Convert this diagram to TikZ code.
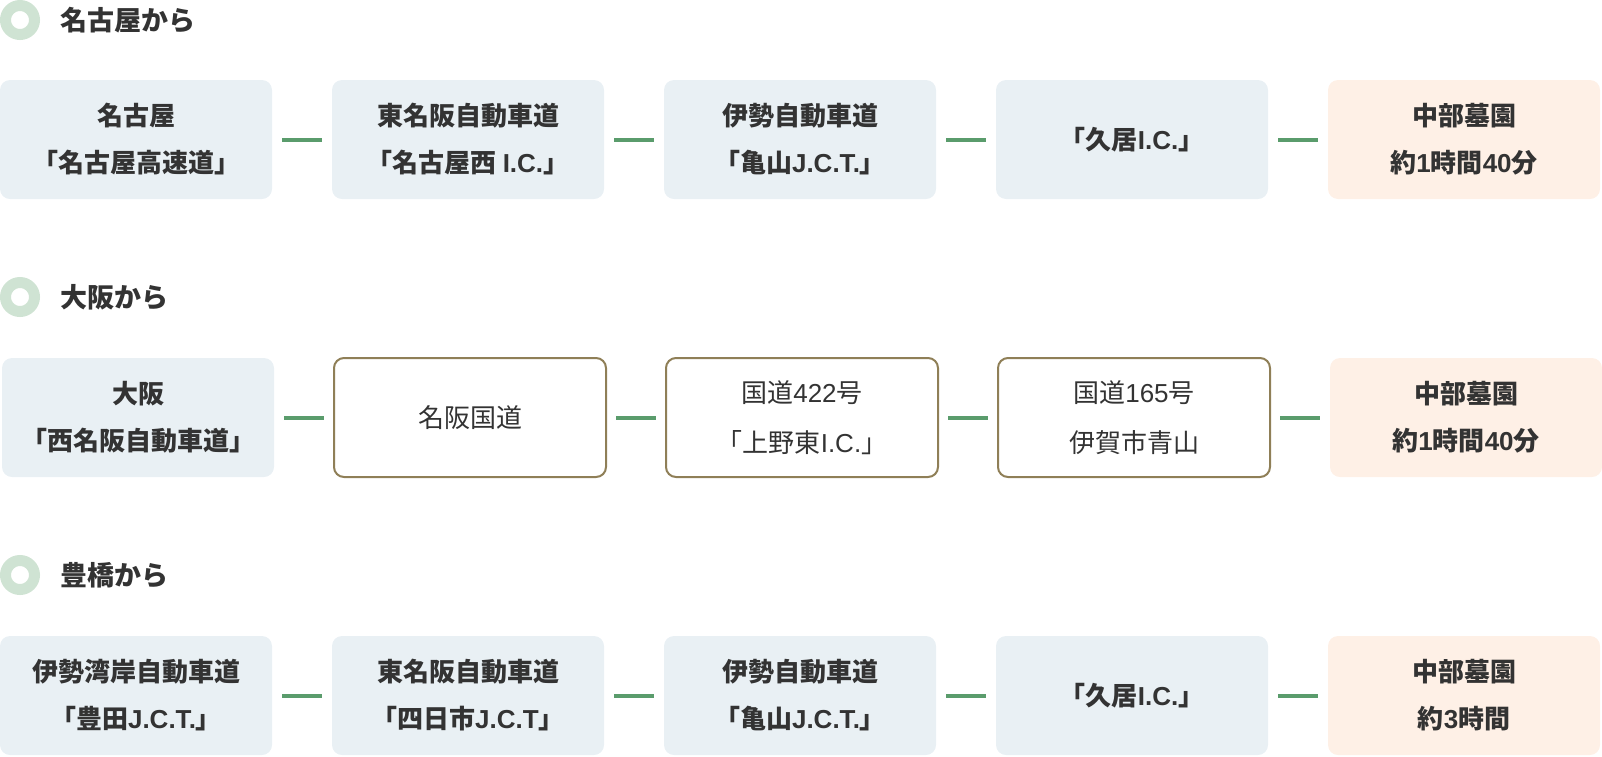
\documentclass[tikz,border=0pt]{standalone}
\usepackage{fontspec}
\setmainfont{Noto Sans CJK JP}
\newfontfamily\lat{Liberation Sans}
\definecolor{boxblue}{HTML}{E9F0F4}
\definecolor{boxorange}{HTML}{FEF0E6}
\definecolor{outlinebrown}{HTML}{8F7F57}
\definecolor{conngreen}{HTML}{5A9C6C}
\definecolor{ringgreen}{HTML}{CFE3D3}
\definecolor{txt}{HTML}{333333}
\tikzset{
  basebox/.style={anchor=north west, minimum width=272pt, minimum height=119pt,
    rounded corners=10pt, inner sep=0pt, outer sep=0pt, align=center, text=txt},
  bluebox/.style={basebox, fill=boxblue, font=\fontsize{26}{47}\selectfont\bfseries},
  orangebox/.style={basebox, fill=boxorange, font=\fontsize{26}{47}\selectfont\bfseries},
  linebox/.style={basebox, fill=white, draw=outlinebrown, line width=2pt, font=\fontsize{26}{50}\selectfont},
  conn/.style={draw=conngreen, line width=4pt},
  ring/.style={draw=ringgreen, line width=11pt},
  heading/.style={anchor=west, text=txt, inner sep=0pt, font=\fontsize{27}{30}\selectfont\bfseries},
}
\begin{document}
\begin{tikzpicture}[x=1pt,y=-1pt]
\useasboundingbox (0,0) rectangle (1602,756);
% headers
\draw[ring] (20,20) circle[radius=14.5];
\node[heading] (h1) at (60,20) {名古屋から};
\draw[ring] (20,297) circle[radius=14.5];
\node[heading] (h2) at (60,297) {大阪から};
\draw[ring] (20,575) circle[radius=14.5];
\node[heading] (h3) at (60,575) {豊橋から};
% row 1
\node[bluebox] (a1) at (0,80) {名古屋\\「名古屋高速道」};
\node[bluebox] (a2) at (332,80) {東名阪自動車道\\「名古屋西 {\lat I.C.}」};
\node[bluebox] (a3) at (664,80) {伊勢自動車道\\「亀山{\lat J.C.T.}」};
\node[bluebox] (a4) at (996,80) {「久居{\lat I.C.}」};
\node[orangebox] (a5) at (1328,80) {中部墓園\\約{\lat 1}時間{\lat 40}分};
% row 2
\node[bluebox] (b1) at (2,358) {大阪\\「西名阪自動車道」};
\node[linebox] (b2) at (334,358) {名阪国道};
\node[linebox] (b3) at (666,358) {国道{\lat 422}号\\「上野東{\lat I.C.}」};
\node[linebox] (b4) at (998,358) {国道{\lat 165}号\\伊賀市青山};
\node[orangebox] (b5) at (1330,358) {中部墓園\\約{\lat 1}時間{\lat 40}分};
% row 3
\node[bluebox] (c1) at (0,636) {伊勢湾岸自動車道\\「豊田{\lat J.C.T.}」};
\node[bluebox] (c2) at (332,636) {東名阪自動車道\\「四日市{\lat J.C.T}」};
\node[bluebox] (c3) at (664,636) {伊勢自動車道\\「亀山{\lat J.C.T.}」};
\node[bluebox] (c4) at (996,636) {「久居{\lat I.C.}」};
\node[orangebox] (c5) at (1328,636) {中部墓園\\約{\lat 3}時間};
% connectors
\foreach \r in {a,b,c}{
  \foreach \i/\j in {1/2,2/3,3/4,4/5}{
    \draw[conn] ([xshift=10pt]\r\i.east) -- ([xshift=-10pt]\r\j.west);
  }
}
\end{tikzpicture}
\end{document}
